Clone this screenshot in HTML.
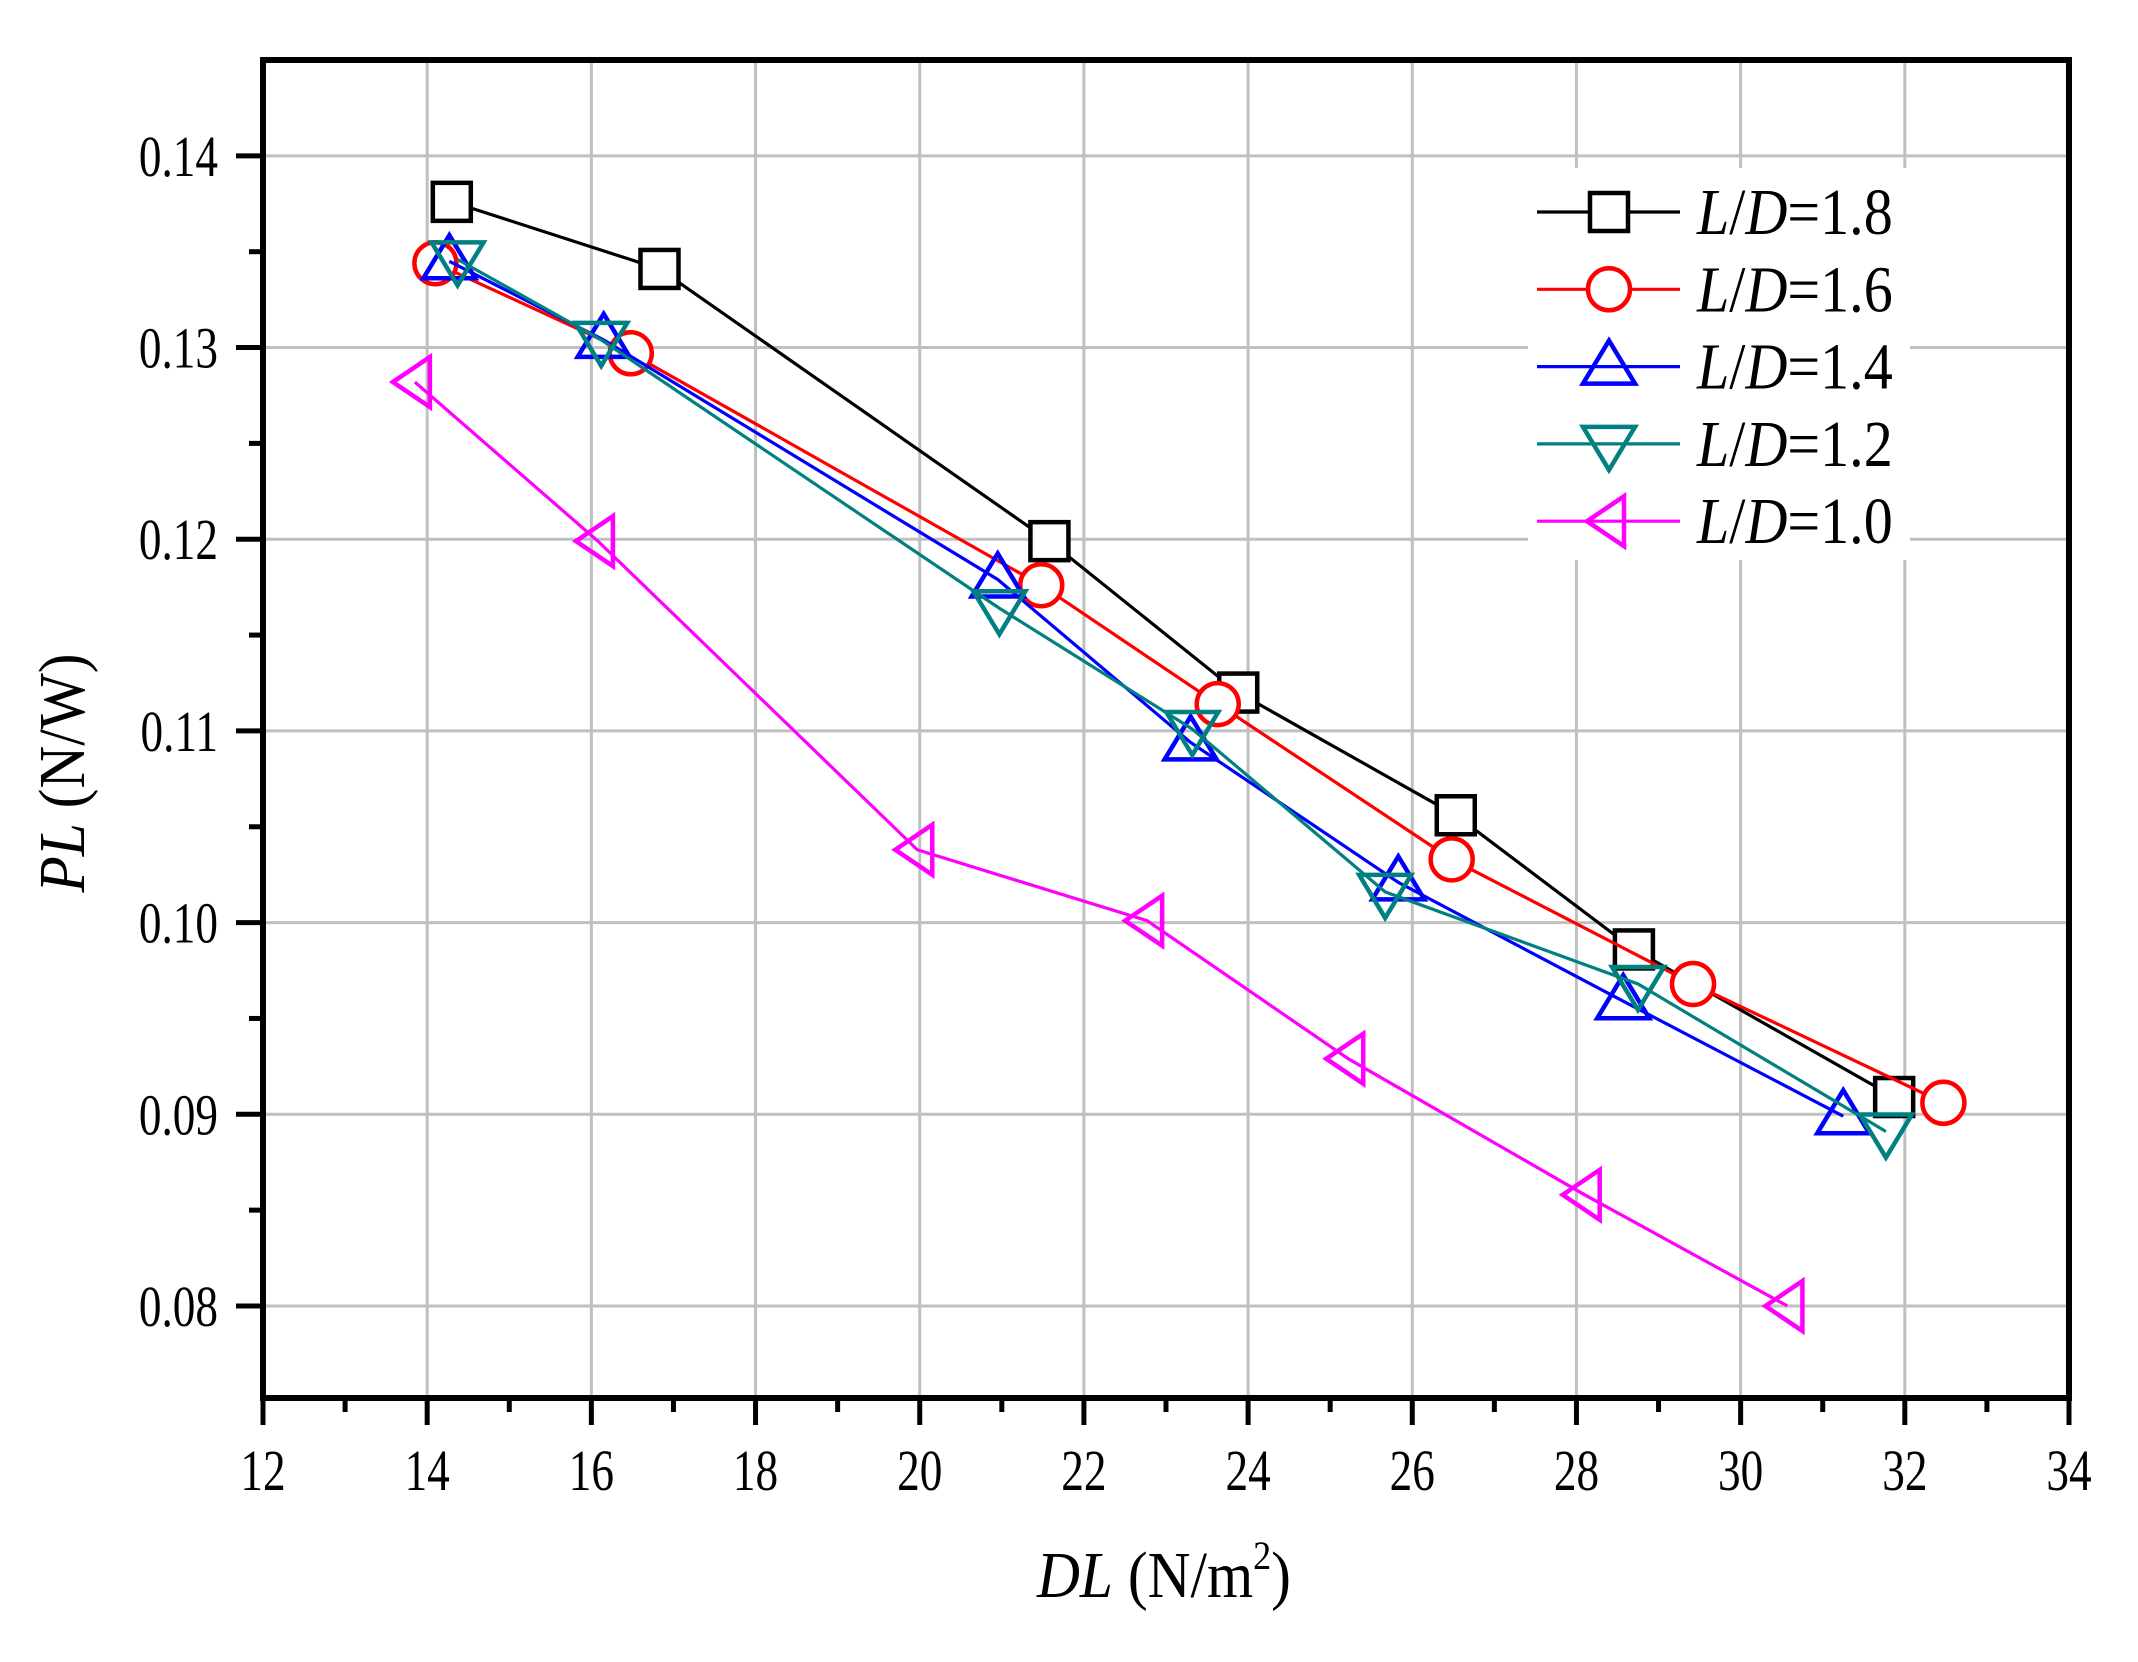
<!DOCTYPE html>
<html><head><meta charset="utf-8"><style>
html,body{margin:0;padding:0;background:#fff;}
svg{display:block;font-family:"Liberation Serif",serif;}
</style></head><body>
<svg id="chart" width="2138" height="1662" viewBox="0 0 2138 1662" xmlns="http://www.w3.org/2000/svg">
<g id="grid"></g>
<rect x="1528" y="168" width="382" height="392" fill="#fff"/>
<g id="series"></g>
<g id="axes"></g>
<g id="legend"></g>
<text transform="translate(1164,1597) scale(0.9,1)" font-size="66" text-anchor="middle"><tspan font-style="italic">DL</tspan> (N/m<tspan font-size="40" dy="-28">2</tspan><tspan dy="28">)</tspan></text>
<text transform="translate(84,773) rotate(-90) scale(0.9,1)" font-size="66" text-anchor="middle"><tspan font-style="italic">PL</tspan> (N/W)</text>
</svg>
<script>
const xTicks=[12,14,16,18,20,22,24,26,28,30,32,34];
const yTicks=[0.08,0.09,0.10,0.11,0.12,0.13,0.14];
const yTickLabels=["0.08","0.09","0.10","0.11","0.12","0.13","0.14"];
const seriesNames=["L/D=1.8","L/D=1.6","L/D=1.4","L/D=1.2","L/D=1.0"];
const x18=[14.3,16.83,21.58,23.88,26.53,28.7,31.87];
const y18=[0.1376,0.1341,0.1199,0.1120,0.1056,0.0986,0.0909];
const x16=[14.1,16.48,21.48,23.63,26.48,29.42,32.47];
const y16=[0.1344,0.1297,0.1176,0.1114,0.1033,0.0968,0.0906];
const x14=[14.27,16.15,20.95,23.3,25.83,28.57,31.25];
const y14=[0.1345,0.1304,0.1179,0.1094,0.1021,0.0959,0.0899];
const x12=[14.37,16.12,20.97,23.32,25.67,28.75,31.77];
const y12=[0.1346,0.1304,0.1164,0.1101,0.1016,0.0968,0.0891];
const x10=[13.85,16.08,19.97,22.77,25.22,28.1,30.57];
const y10=[0.1282,0.1199,0.1038,0.1001,0.0929,0.0858,0.0800];

const NS="http://www.w3.org/2000/svg";
const L=263,R=2069,T=60,B=1398;
const X0=12,X1=34,Y0=0.0752,Y1=0.145;
function sx(v){return L+(v-X0)/(X1-X0)*(R-L);}
function sy(v){return B-(v-Y0)/(Y1-Y0)*(B-T);}
function mk(tag,attrs,parent){const e=document.createElementNS(NS,tag);for(const k in attrs)e.setAttribute(k,attrs[k]);parent.appendChild(e);return e;}
const grid=document.getElementById('grid'),axes=document.getElementById('axes'),ser=document.getElementById('series'),leg=document.getElementById('legend');

xTicks.forEach((t,i)=>{
  const X=sx(t);
  if(i>0&&i<xTicks.length-1){
    const g=mk('line',{x1:X,x2:X,y1:T,y2:B,stroke:'#c0c0c0','stroke-width':3},grid);
    
    
  }
  const tk=mk('line',{x1:X,x2:X,y1:B,y2:B+27,stroke:'#000','stroke-width':5},axes);
  
  
  if(i<xTicks.length-1){
    const m=sx(t+1);
    const mt=mk('line',{x1:m,x2:m,y1:B,y2:B+14,stroke:'#000','stroke-width':5},axes);
    
    
  }
  const tl=mk('text',{transform:`translate(${X},${B+92}) scale(0.78,1)`,'font-size':58,'text-anchor':'middle'},axes);
  tl.textContent=String(t);
  
  
});
yTicks.forEach((t,i)=>{
  const Y=sy(t);
  const g=mk('line',{x1:L,x2:R,y1:Y,y2:Y,stroke:'#c0c0c0','stroke-width':3},grid);
  
  
  const tk=mk('line',{x1:L-27,x2:L,y1:Y,y2:Y,stroke:'#000','stroke-width':5},axes);
  
  
  const tl=mk('text',{transform:`translate(${L-45},${Y+20}) scale(0.78,1)`,'font-size':58,'text-anchor':'end'},axes);
  tl.textContent=yTickLabels[i];
  
  
});
[0.085,0.095,0.105,0.115,0.125,0.135].forEach(t=>{
  const Y=sy(t);
  const mt=mk('line',{x1:L-14,x2:L,y1:Y,y2:Y,stroke:'#000','stroke-width':5},axes);
  
  
});
const frame=mk('rect',{x:L,y:T,width:R-L,height:B-T,fill:'none',stroke:'#000','stroke-width':6},axes);



function marker(type,cx,cy,color,parent){
  let e;
  const sw=4.5;
  if(type==='square') e=mk('rect',{x:cx-19,y:cy-19,width:38,height:38,fill:'#fff',stroke:color,'stroke-width':sw},parent);
  else if(type==='circle') e=mk('circle',{cx:cx,cy:cy,r:21,fill:'#fff',stroke:color,'stroke-width':sw},parent);
  else if(type==='up') e=mk('polygon',{points:`${cx},${cy-26} ${cx-26},${cy+17} ${cx+26},${cy+17}`,fill:'none',stroke:color,'stroke-width':sw},parent);
  else if(type==='down') e=mk('polygon',{points:`${cx},${cy+26} ${cx-26},${cy-17} ${cx+26},${cy-17}`,fill:'none',stroke:color,'stroke-width':sw},parent);
  else e=mk('polygon',{points:`${cx-22},${cy} ${cx+15},${cy-25} ${cx+15},${cy+25}`,fill:'none',stroke:color,'stroke-width':sw},parent);
  return e;
}
const seriesX=[x18,x16,x14,x12,x10],seriesY=[y18,y16,y14,y12,y10];
const colors=['#000000','#ff0000','#0000ff','#008080','#ff00ff'];
const types=['square','circle','up','down','left'];
for(let s=0;s<5;s++){
  const g=mk('g',{},ser);
  
  
  const pts=seriesX[s].map((v,i)=>sx(v)+','+sy(seriesY[s][i])).join(' ');
  const pl=mk('polyline',{points:pts,fill:'none',stroke:colors[s],'stroke-width':3.2},g);
  
  
  seriesX[s].forEach((v,i)=>{
    const m=marker(types[s],sx(v),sy(seriesY[s][i]),colors[s],g);
    
    
  });
  const ly=212+s*77.3;
  const lg=mk('g',{},leg);
  
  
  mk('line',{x1:1537,x2:1680,y1:ly,y2:ly,stroke:colors[s],'stroke-width':3.2},lg);
  marker(types[s],1609,ly,colors[s],lg);
  const t=mk('text',{transform:`translate(1697,${ly+22}) scale(0.88,1)`,'font-size':66},lg);
  t.innerHTML='<tspan font-style="italic">L</tspan>/<tspan font-style="italic">D</tspan>='+seriesNames[s].split('=')[1];
}
</script>
</body></html>
